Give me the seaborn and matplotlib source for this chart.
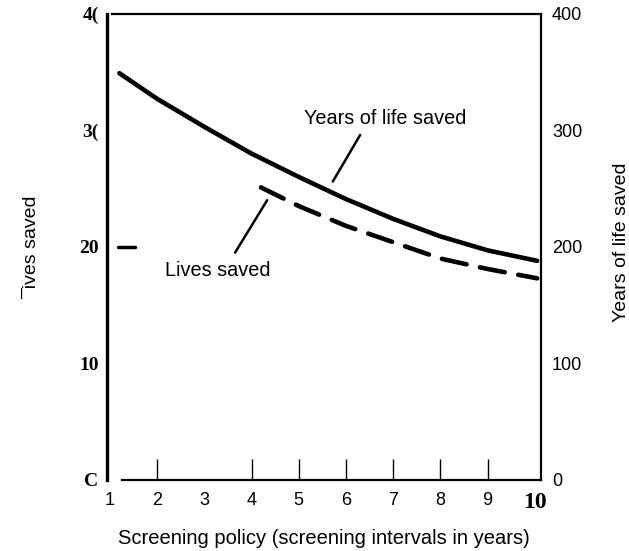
import matplotlib
matplotlib.use('Agg')
import matplotlib.pyplot as plt
import seaborn as sns

# values
years_x = [1.2, 2, 3, 4, 5, 6, 7, 8, 9, 10.05]
years_saved = [349, 327, 303, 280, 260, 241, 224, 209, 197, 188]
lives_x = [4.2, 5, 6, 7, 8, 9, 10.05]
lives_saved = [25.1, 23.5, 21.8, 20.4, 19.0, 18.1, 17.3]

x_ticks = [1, 2, 3, 4, 5, 6, 7, 8, 9, 10]
x_marks = [2, 4, 5, 6, 7, 8, 9]
left_ticks = [0, 10, 20, 30, 40]
left_labels = ['C', '10', '20', '3(', '4(']
right_ticks = [0, 100, 200, 300, 400]
stray_tick = 20  # lone dash next to the left axis

sns.set_theme(style='white')
plt.rcParams['font.family'] = ['Liberation Sans', 'DejaVu Sans']
plt.rcParams['text.color'] = 'black'
plt.rcParams['axes.labelcolor'] = 'black'
plt.rcParams['xtick.color'] = 'black'
plt.rcParams['ytick.color'] = 'black'

fig = plt.figure(figsize=(6.29, 5.51), dpi=100)
ax = fig.add_axes([0.170, 0.129, 0.690, 0.846])
ax2 = ax.twinx()

sns.lineplot(x=years_x, y=years_saved, ax=ax2, color='black', lw=3.3,
             solid_capstyle='round')
sns.lineplot(x=lives_x, y=lives_saved, ax=ax, color='black', lw=3.3,
             linestyle=(0, (5.5, 3)), dash_capstyle='round')
ax.axhline(stray_tick, xmin=0.025, xmax=0.065, color='black', lw=2.5)

ax.set_xlim(0.936, 10.13)
ax.set_ylim(0, 40)
ax2.set_ylim(0, 400)

# spines
for s in ['left', 'top', 'bottom']:
    ax.spines[s].set_color('black')
ax.spines['right'].set_visible(False)
ax.spines['left'].set_linewidth(2.4)
ax.spines['top'].set_linewidth(1.6)
ax.spines['bottom'].set_linewidth(1.6)
ax.spines['top'].set_bounds(1.04, 10.13)
ax.spines['bottom'].set_bounds(1.25, 10.13)
for s in ['left', 'top', 'bottom']:
    ax2.spines[s].set_visible(False)
ax2.spines['right'].set_color('black')
ax2.spines['right'].set_linewidth(1.6)

# x axis: labels on every year, small inward marks on some of them
ax.xaxis.remove_overlapping_locs = False
ax.set_xticks(x_ticks)
ax.set_xticklabels([str(v) for v in x_ticks])
ax.set_xticks(x_marks, minor=True)
ax.tick_params(axis='x', which='major', length=0, pad=9, labelsize=13)
ax.tick_params(axis='x', which='minor', direction='in', length=15, width=1,
               color='black', bottom=True)
ax.get_xticklabels()[-1].set_fontproperties(
    {'family': 'Liberation Serif', 'weight': 'bold', 'size': 17})
ax.set_xlabel('Screening policy (screening intervals in years)', fontsize=14.5,
              labelpad=11)

# left axis
ax.set_yticks(left_ticks)
ax.set_yticklabels(left_labels, family='Liberation Serif', weight='bold',
                   fontsize=14)
ax.tick_params(axis='y', length=0, pad=6)
ax.set_ylabel('\u00afives saved', fontsize=14)
ax.yaxis.set_label_coords(-0.155, 0.50)

# right axis
ax2.set_yticks(right_ticks)
ax2.tick_params(axis='y', length=0, pad=8, labelsize=13)
ax2.set_ylabel('Years of life saved', fontsize=14)
ax2.yaxis.set_label_coords(1.165, 0.51)

# curve labels
ax.text(6.83, 31.0, 'Years of life saved', fontsize=14.3, ha='center',
        va='center')
ax.annotate('', xy=(5.72, 25.6), xytext=(6.30, 29.6),
            arrowprops=dict(arrowstyle='-', lw=1.8, color='black',
                            shrinkA=0, shrinkB=0))
ax.text(3.29, 18.0, 'Lives saved', fontsize=14.3, ha='center', va='center')
ax.annotate('', xy=(4.33, 24.0), xytext=(3.65, 19.5),
            arrowprops=dict(arrowstyle='-', lw=1.8, color='black',
                            shrinkA=0, shrinkB=0))

fig.savefig('out.png', dpi=100)
